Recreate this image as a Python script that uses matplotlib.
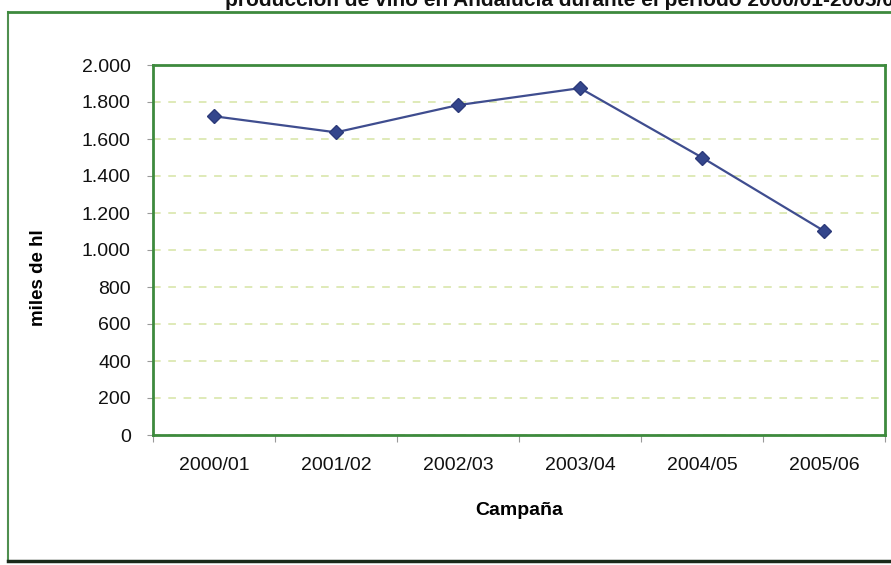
import matplotlib.pyplot as plt
from matplotlib.lines import Line2D

# Data
campanas = ["2000/01", "2001/02", "2002/03", "2003/04", "2004/05", "2005/06"]
miles_hl = [1723, 1636, 1783, 1875, 1500, 1103]
y_ticks = [0, 200, 400, 600, 800, 1000, 1200, 1400, 1600, 1800, 2000]
y_labels = ["0", "200", "400", "600", "800", "1.000", "1.200", "1.400", "1.600", "1.800", "2.000"]

plt.rcParams['font.family'] = ['Liberation Sans', 'DejaVu Sans']

fig = plt.figure(figsize=(8.91, 5.65), dpi=100)
ax = fig.add_axes([153 / 891, 1 - 435 / 565, 732 / 891, 370 / 565])

# Series line with diamond markers
x = list(range(len(campanas)))
ax.plot(x, miles_hl, color='#3f4d8f', linewidth=1.6, marker='D', markersize=7,
        markerfacecolor='#34468c', markeredgecolor='#2c3a7a', zorder=3)

# Axes limits and ticks
ax.set_xlim(-0.5, len(campanas) - 0.5)
ax.set_ylim(0, 2000)
ax.set_yticks(y_ticks)
ax.set_yticklabels(y_labels, fontsize=14, color='#111111')
ax.set_xticks([i - 0.5 for i in range(len(campanas) + 1)])
ax.set_xticklabels([])
ax.set_xticks(x, minor=True)
ax.set_xticklabels(campanas, minor=True, fontsize=14, color='#111111')
ax.tick_params(axis='x', which='major', length=5, color='#999999', direction='out')
ax.tick_params(axis='x', which='minor', length=0, pad=16)
ax.tick_params(axis='y', length=4, color='#999999', pad=12)

# Dashed gridlines
ax.yaxis.grid(True, linestyle=(0, (5, 5)), color='#d6e4a4', linewidth=1.1)
ax.set_axisbelow(True)

# Green plot border
for s in ax.spines.values():
    s.set_color('#3d8a3d')
    s.set_linewidth(2)

ax.set_ylabel("miles de hl", fontsize=13.5, fontweight='bold')
ax.yaxis.set_label_coords(-0.145, 0.424)
ax.set_xlabel("Campaña", fontsize=14, fontweight='bold')
ax.xaxis.set_label_coords(0.5, -0.18)

# Outer chart frame (scanned page edges)
fig.add_artist(Line2D([8 / 891, 8 / 891], [1 - 12 / 565, 1 - 560 / 565], color='#4f8f4f', linewidth=1.5))
fig.add_artist(Line2D([8 / 891, 1], [1 - 12 / 565, 1 - 12 / 565], color='#3d8a3d', linewidth=2))
fig.add_artist(Line2D([8 / 891, 1], [1 - 561 / 565, 1 - 561 / 565], color='#1a2a1a', linewidth=2.5))

# Title cut off at the top of the scan
fig.text(225 / 891, 1 - 6 / 565,
         "producción de vino en Andalucía durante el período 2000/01-2005/06",
         fontsize=15, fontweight='bold', ha='left', va='baseline', color='#111111')

fig.savefig("out.png", dpi=100)
